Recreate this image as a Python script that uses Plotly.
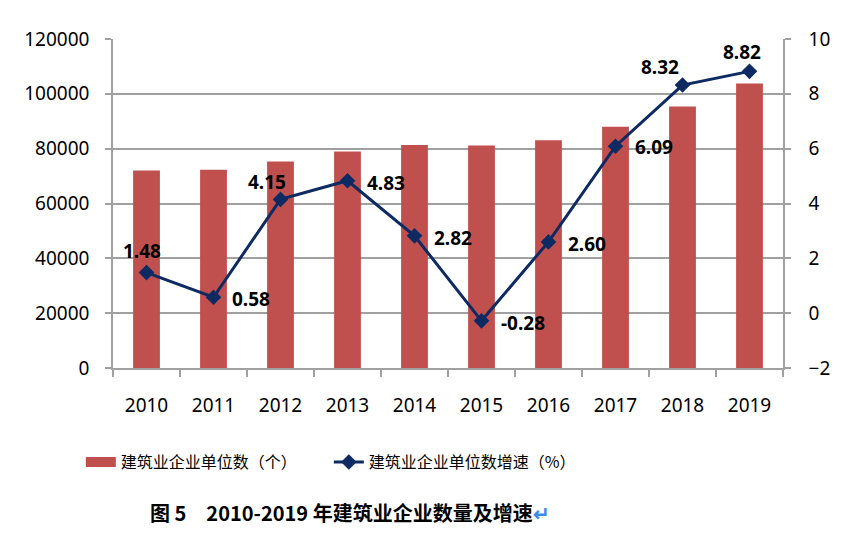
import plotly.graph_objects as go

years = ["2010", "2011", "2012", "2013", "2014", "2015", "2016", "2017", "2018", "2019"]
units = [72000, 72280, 75280, 79000, 81300, 81200, 83100, 88000, 95400, 103800]
growth = [1.48, 0.58, 4.15, 4.83, 2.82, -0.28, 2.60, 6.09, 8.32, 8.82]
growth_text = ["1.48", "0.58", "4.15", "4.83", "2.82", "-0.28", "2.60", "6.09", "8.32", "8.82"]

# label offsets in pixels (styling only)
label_dx = [-5, 37, -14, 38, 38, 41, 38, 38, -23, -8]
label_dy = [22, -2, 17, -2, -2, -2, -2, -1, 18, 19]

bar_name = "建筑业企业单位数（个）"
line_name = "建筑业企业单位数增速（%）"
title_text = "图 5\u30002010-2019 年建筑业企业数量及增速"

BAR = "#C0504D"
LINE = "#0E2A63"
GRID = "#A0A0A0"
NUM_FONT = "Noto Sans"
CJK_FONT = "Noto Sans CJK SC"
TITLE_FONT = "Liberation Sans Narrow, Noto Sans CJK SC"

fig = go.Figure()
fig.add_trace(go.Bar(x=years, y=units, name=bar_name, marker=dict(color=BAR, line=dict(width=0)),
                     yaxis="y", showlegend=False))
# legend swatch for the bars (wide rectangle as in the reference)
fig.add_trace(go.Scatter(x=[years[0]], y=[None], mode="lines", name=bar_name,
                         line=dict(color=BAR, width=10), yaxis="y", hoverinfo="skip"))
fig.add_trace(go.Scatter(x=years, y=growth, name=line_name, mode="lines+markers",
                         line=dict(color=LINE, width=3),
                         marker=dict(symbol="diamond", size=12, color=LINE),
                         yaxis="y2", cliponaxis=False))

annotations = []
for i, (g, t, dx, dy) in enumerate(zip(growth, growth_text, label_dx, label_dy)):
    annotations.append(dict(x=i, y=g, xref="x", yref="y2", text=t, showarrow=False,
                            xanchor="center", yanchor="middle", xshift=dx, yshift=dy,
                            font=dict(family=NUM_FONT, size=19, color="#000000", weight="bold")))

annotations.append(dict(text=title_text + "<span style='color:#3C8CE6'>\u21b5</span>",
                        xref="paper", yref="paper", x=0.052, y=-0.438,
                        xanchor="left", yanchor="middle", showarrow=False,
                        font=dict(family=TITLE_FONT, size=20, color="#000000", weight="bold")))

fig.update_layout(
    width=856, height=542,
    margin=dict(l=113, r=73, t=39, b=174),
    plot_bgcolor="white", paper_bgcolor="white",
    bargap=0.6,
    showlegend=True,
    legend=dict(orientation="h", x=-0.048, y=-0.286, xanchor="left", yanchor="middle",
                font=dict(family=CJK_FONT, size=16, color="#000000"),
                entrywidth=203, entrywidthmode="pixels", itemwidth=30,
                bgcolor="rgba(0,0,0,0)"),
    xaxis=dict(type="category", range=[-0.5, len(years) - 0.5], showline=True,
               linecolor=GRID, linewidth=1.5,
               ticks="outside", tickson="boundaries", ticklen=7, tickcolor=GRID, tickwidth=1.5,
               ticklabelstandoff=19, automargin=False,
               tickfont=dict(family=NUM_FONT, size=19, color="#000000"), showgrid=False),
    yaxis=dict(range=[0, 120000], dtick=20000, tickformat="d", showline=True, linecolor=GRID,
               linewidth=1.5, ticks="outside", ticklen=6, tickcolor=GRID, tickwidth=1.5,
               gridcolor=GRID, gridwidth=1.5, ticklabelstandoff=12, zeroline=False,
               automargin=False,
               tickfont=dict(family=NUM_FONT, size=19, color="#000000")),
    yaxis2=dict(range=[-2, 10], dtick=2, overlaying="y", side="right", showline=True,
                linecolor=GRID, linewidth=1.5, ticks="outside", ticklen=6, tickcolor=GRID,
                tickwidth=1.5, showgrid=False, zeroline=False, ticklabelstandoff=14,
                automargin=False,
                tickfont=dict(family=NUM_FONT, size=19, color="#000000")),
    annotations=annotations,
)

fig.write_html("out.html", post_script="document.body.style.margin='0';",
               config={"displayModeBar": False})
